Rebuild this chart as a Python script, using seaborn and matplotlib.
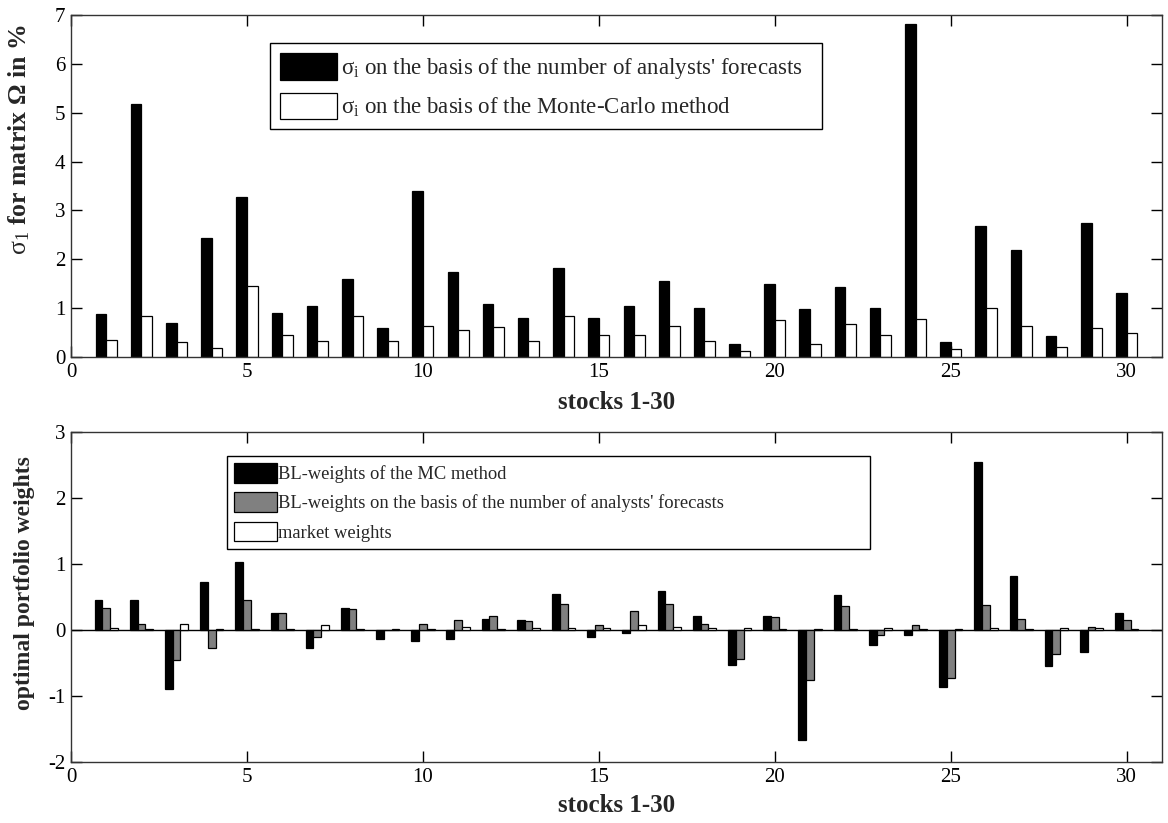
import matplotlib
matplotlib.use("Agg")
import matplotlib.pyplot as plt
import numpy as np
import pandas as pd
import seaborn as sns

stocks = list(range(1, 31))

sigma_analysts = [0.89, 5.17, 0.70, 2.44, 3.28, 0.91, 1.04, 1.59, 0.59, 3.39,
                  1.73, 1.09, 0.80, 1.82, 0.80, 1.04, 1.56, 1.00, 0.27, 1.49,
                  0.98, 1.43, 1.00, 6.81, 0.30, 2.69, 2.19, 0.44, 2.75, 1.32]
sigma_mc = [0.35, 0.84, 0.30, 0.18, 1.45, 0.46, 0.32, 0.84, 0.32, 0.63,
            0.55, 0.61, 0.33, 0.84, 0.46, 0.46, 0.63, 0.33, 0.12, 0.75,
            0.27, 0.67, 0.46, 0.77, 0.16, 1.00, 0.63, 0.21, 0.60, 0.50]

w_mc = [0.46, 0.46, -0.90, 0.72, 1.03, 0.26, -0.28, 0.34, -0.13, -0.17,
        -0.13, 0.17, 0.15, 0.55, -0.11, -0.05, 0.59, 0.21, -0.53, 0.21,
        -1.67, 0.53, -0.22, -0.07, -0.86, 2.55, 0.82, -0.55, -0.34, 0.26]
w_analysts = [0.34, 0.09, -0.45, -0.28, 0.46, 0.26, -0.11, 0.32, 0.00, 0.09,
              0.15, 0.21, 0.13, 0.40, 0.07, 0.29, 0.40, 0.09, -0.44, 0.19,
              -0.75, 0.36, -0.08, 0.07, -0.73, 0.38, 0.17, -0.36, 0.05, 0.15]
w_market = [0.03, 0.01, 0.09, 0.01, 0.01, 0.01, 0.07, 0.01, 0.02, 0.01,
            0.05, 0.01, 0.03, 0.03, 0.03, 0.07, 0.05, 0.03, 0.03, 0.01,
            0.01, 0.01, 0.03, 0.01, 0.01, 0.03, 0.01, 0.03, 0.03, 0.01]

top_labels = ["σ$_\\mathrm{i}$ on the basis of the number of analysts' forecasts",
              "σ$_\\mathrm{i}$ on the basis of the Monte-Carlo method"]
bottom_labels = ["BL-weights of the MC method",
                 "BL-weights on the basis of the number of analysts' forecasts",
                 "market weights"]

sns.set_theme(style="ticks")
plt.rcParams["font.family"] = ["Liberation Serif", "DejaVu Serif"]
plt.rcParams["mathtext.fontset"] = "custom"
plt.rcParams["mathtext.rm"] = "Liberation Serif"
plt.rcParams["mathtext.it"] = "Liberation Serif:italic"
plt.rcParams["mathtext.bf"] = "Liberation Serif:bold"

fig = plt.figure(figsize=(11.68, 8.23), dpi=100)
ax1 = fig.add_axes([0.0608, 0.5662, 0.934, 0.4156])
ax2 = fig.add_axes([0.0608, 0.0741, 0.934, 0.401])

df1 = pd.DataFrame({
    "stock": stocks * 2,
    "value": sigma_analysts + sigma_mc,
    "series": [top_labels[0]] * 30 + [top_labels[1]] * 30,
})
sns.barplot(data=df1, x="stock", y="value", hue="series", native_scale=True,
            width=0.6, palette={top_labels[0]: "black", top_labels[1]: "white"},
            edgecolor="black", linewidth=0.9, saturation=1, errorbar=None, ax=ax1)

df2 = pd.DataFrame({
    "stock": stocks * 3,
    "value": w_mc + w_analysts + w_market,
    "series": [bottom_labels[0]] * 30 + [bottom_labels[1]] * 30 + [bottom_labels[2]] * 30,
})
sns.barplot(data=df2, x="stock", y="value", hue="series", native_scale=True,
            width=0.66, palette={bottom_labels[0]: "black", bottom_labels[1]: "#808080",
                                 bottom_labels[2]: "white"},
            edgecolor="black", linewidth=0.9, saturation=1, errorbar=None, ax=ax2)
ax2.axhline(0, color="black", lw=1.0, zorder=0.5)

for ax, ylim, yticks in [(ax1, (0, 7), range(0, 8)), (ax2, (-2, 3), range(-2, 4))]:
    ax.set_xlim(0, 31)
    ax.set_ylim(*ylim)
    ax.set_xticks(range(0, 31, 5))
    ax.set_xticklabels([str(t) for t in range(0, 31, 5)])
    ax.set_yticks(list(yticks))
    ax.set_yticklabels([str(t) for t in yticks])
    ax.tick_params(direction="in", length=8, width=1, top=True, right=True,
                   labelsize=15, colors="black", pad=4)
    for s in ax.spines.values():
        s.set_visible(True)
        s.set_color("#333333")
        s.set_linewidth(1)

ax1.set_xlabel("stocks 1-30", fontsize=18, fontweight="bold", labelpad=7)
ax2.set_xlabel("stocks 1-30", fontsize=18, fontweight="bold", labelpad=5)

ax1.set_ylabel("$\\mathrm{\\sigma}_\\mathrm{1}$ for matrix Ω in %", fontsize=18.5,
               fontweight="bold")
ax1.yaxis.set_label_coords(-0.036, 0.635)
ax2.set_ylabel("optimal portfolio weights", fontsize=17, fontweight="bold")
ax2.yaxis.set_label_coords(-0.033, 0.542)

h1, l1 = ax1.get_legend_handles_labels()
ax1.legend(h1, l1, loc="upper left", bbox_to_anchor=(0.182, 0.5, 0.506, 0.418),
           mode="expand", borderaxespad=0,
           fontsize=16.5, frameon=True, fancybox=False, edgecolor="black", framealpha=1,
           handlelength=2.5, handleheight=1.4, handletextpad=0.15, labelspacing=0.5,
           borderpad=0.45)
h2, l2 = ax2.get_legend_handles_labels()
ax2.legend(h2, l2, loc="upper left", bbox_to_anchor=(0.143, 0.5, 0.589, 0.427),
           mode="expand", borderaxespad=0,
           fontsize=13.3, frameon=True, fancybox=False, edgecolor="black", framealpha=1,
           handlelength=2.3, handleheight=1.25, handletextpad=0.1, labelspacing=0.5,
           borderpad=0.38)
for leg in (ax1.get_legend(), ax2.get_legend()):
    leg.get_frame().set_linewidth(1)

fig.savefig("out.png", dpi=100)
